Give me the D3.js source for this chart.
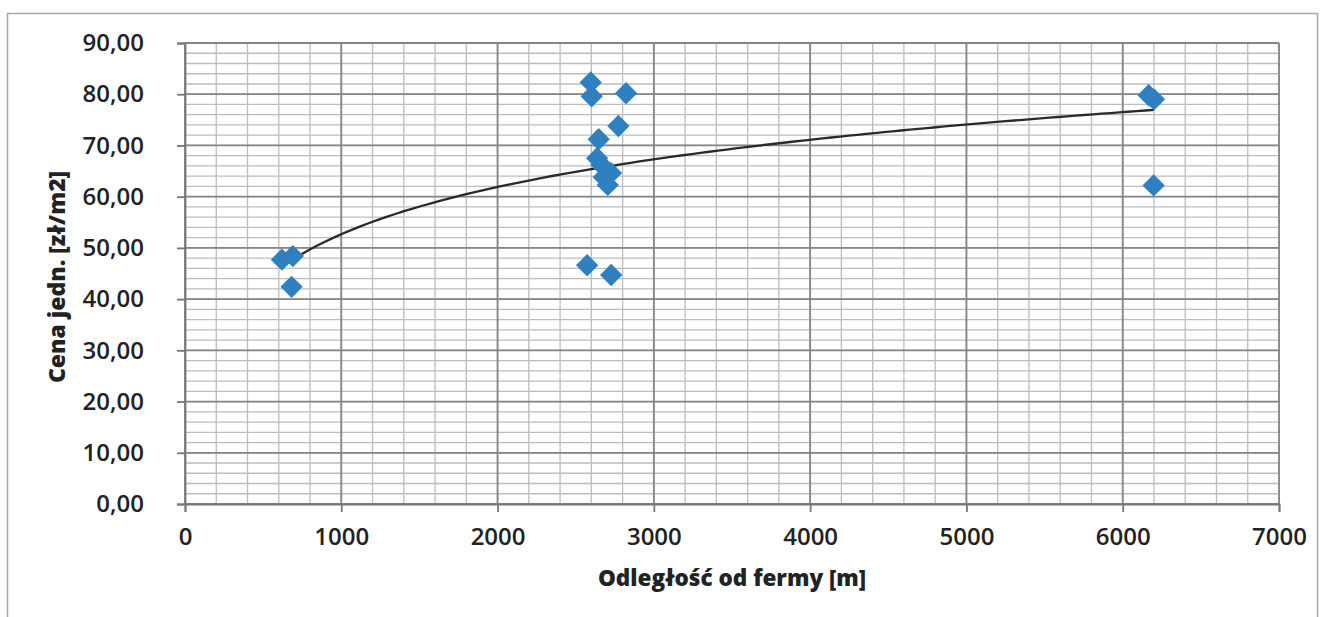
<!DOCTYPE html>
<meta charset="utf-8">
<script src="https://d3js.org/d3.v7.min.js"></script>
<style>
  body { margin: 0; background: #fff; }
  text { font-family: "Open Sans", sans-serif; fill: #222; }
</style>
<div id="chart"></div>
<script>

// data
var distance = [620, 690, 682,
                2596, 2602, 2822, 2773, 2647, 2637, 2665, 2726, 2680, 2705, 2573, 2727,
                6166, 6200, 6198];
var price = [47.7, 48.4, 42.4,
             82.3, 79.6, 80.2, 73.8, 71.2, 67.5, 66.2, 64.6, 63.8, 62.3, 46.6, 44.7,
             79.8, 79.0, 62.2];
var xTicks = [0, 1000, 2000, 3000, 4000, 5000, 6000, 7000];
var yTicks = [0, 10, 20, 30, 40, 50, 60, 70, 80, 90];
// logarithmic trend line y = a*ln(x) + b
var trendA = 13.3, trendB = -39.2;

var width = 1327, height = 617;
var margin = {top: 43, right: 48, bottom: 113, left: 185};

var svg = d3.select("#chart")
  .append("svg")
    .attr("width", width)
    .attr("height", height);

// chart border
svg.append("rect")
  .attr("x", 7.5).attr("y", 13.5)
  .attr("width", 1310).attr("height", 700)
  .attr("fill", "none")
  .attr("stroke", "#a8a8a8")
  .attr("stroke-width", 1.5);

var x = d3.scaleLinear()
  .domain([0, 7000])
  .range([margin.left, width - margin.right]);
var y = d3.scaleLinear()
  .domain([0, 90])
  .range([height - margin.bottom, margin.top]);

// minor grid
var g = svg.append("g");
g.selectAll(".vminor")
  .data(d3.range(0, 7001, 200))
  .enter().append("line")
    .attr("x1", function(d) { return x(d); })
    .attr("x2", function(d) { return x(d); })
    .attr("y1", y(0)).attr("y2", y(90))
    .attr("stroke", "#bdbdbd").attr("stroke-width", 1.3);
g.selectAll(".hminor")
  .data(d3.range(0, 91, 2))
  .enter().append("line")
    .attr("x1", x(0)).attr("x2", x(7000))
    .attr("y1", function(d) { return y(d); })
    .attr("y2", function(d) { return y(d); })
    .attr("stroke", "#bdbdbd").attr("stroke-width", 1.3);

// major grid
g.selectAll(".vmajor")
  .data(xTicks)
  .enter().append("line")
    .attr("x1", function(d) { return x(d); })
    .attr("x2", function(d) { return x(d); })
    .attr("y1", y(0)).attr("y2", y(90))
    .attr("stroke", "#858585").attr("stroke-width", 1.8);
g.selectAll(".hmajor")
  .data(yTicks)
  .enter().append("line")
    .attr("x1", x(0)).attr("x2", x(7000))
    .attr("y1", function(d) { return y(d); })
    .attr("y2", function(d) { return y(d); })
    .attr("stroke", "#858585").attr("stroke-width", 1.8);

// axes
var xAxis = svg.append("g")
  .attr("transform", "translate(0," + y(0) + ")")
  .call(d3.axisBottom(x).tickValues(xTicks).tickSize(8).tickPadding(16)
    .tickFormat(d3.format("d")));
var yAxis = svg.append("g")
  .attr("transform", "translate(" + x(0) + ",0)")
  .call(d3.axisLeft(y).tickValues(yTicks).tickSize(8).tickPadding(33)
    .tickFormat(function(d) { return d3.format(".2f")(d).replace(".", ","); }));

[xAxis, yAxis].forEach(function(a) {
  a.select(".domain").attr("stroke", "#777").attr("stroke-width", 1.8);
  a.selectAll(".tick line").attr("stroke", "#777").attr("stroke-width", 1.8);
  a.selectAll(".tick text")
    .attr("fill", "#222")
    .style("font-family", "'Open Sans', sans-serif")
    .style("font-size", "24px")
    .style("font-weight", "600");
});

// trend line over the data range
var xMin = d3.min(distance), xMax = d3.max(distance);
var trend = d3.range(0, 101).map(function(i) {
  var xv = xMin + (xMax - xMin) * i / 100;
  return [xv, trendA * Math.log(xv) + trendB];
});
svg.append("path")
  .datum(trend)
  .attr("fill", "none")
  .attr("stroke", "#2a2a2a")
  .attr("stroke-width", 2.3)
  .attr("d", d3.line()
    .x(function(d) { return x(d[0]); })
    .y(function(d) { return y(d[1]); }));

// diamonds
svg.selectAll(".pt")
  .data(distance)
  .enter().append("path")
    .attr("d", d3.symbol().type(d3.symbolSquare).size(250))
    .attr("transform", function(d, i) {
      return "translate(" + x(d) + "," + y(price[i]) + ") rotate(45)";
    })
    .attr("fill", "#2f80c0");

// axis titles
svg.append("text")
  .attr("x", 732).attr("y", 586)
  .attr("text-anchor", "middle")
  .style("font-size", "22.5px")
  .style("font-weight", "800")
  .text("Odległość od fermy [m]");

svg.append("text")
  .attr("transform", "translate(65,277) rotate(-90)")
  .attr("text-anchor", "middle")
  .style("font-size", "23px")
  .style("font-weight", "800")
  .text("Cena jedn. [zł/m2]");

</script>
